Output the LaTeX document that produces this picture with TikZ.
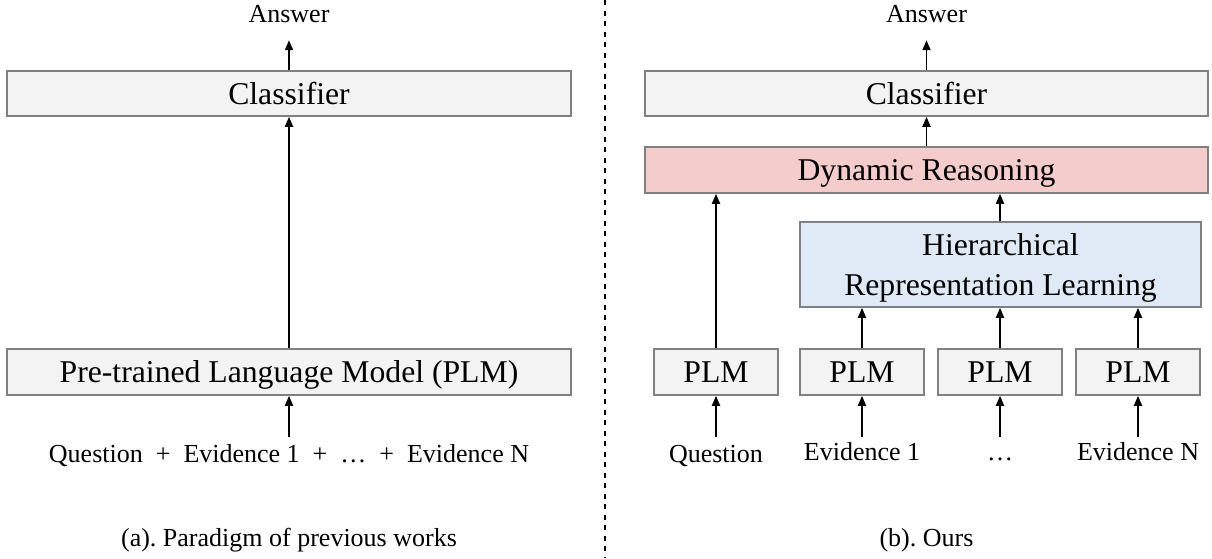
\documentclass[tikz,border=0pt]{standalone}
\usepackage{fontspec}
\setmainfont{Liberation Serif}
\usetikzlibrary{arrows.meta}
\definecolor{boxgray}{RGB}{243,243,243}
\definecolor{boxpink}{RGB}{244,204,204}
\definecolor{boxblue}{RGB}{224,234,246}
\definecolor{edgegray}{RGB}{128,128,128}
\frenchspacing
\begin{document}
\begin{tikzpicture}[x=1pt,y=-1pt,
  box/.style={draw=edgegray, line width=1.6pt, rectangle, inner sep=0pt,
    font=\fontsize{31.7}{39.5}\selectfont, text height=21pt, text depth=0pt},
  graybox/.style={box, fill=boxgray},
  arr/.style={-{Triangle[length=10pt,width=8pt]}, line width=1.8pt},
  lbl/.style={font=\fontsize{26}{30}\selectfont, inner sep=0pt,
    text height=17pt, text depth=0pt},
  divider/.style={line width=1.6pt, dash pattern=on 5pt off 5.5pt},
]
\useasboundingbox (0,0) rectangle (1212,558);

% ---------- (a) previous paradigm ----------
\node[graybox, minimum width=564pt, minimum height=45pt] (lcls) at (289,93.5) {Classifier};
\node[graybox, minimum width=564pt, minimum height=46pt] (lplm) at (289,372) {Pre-trained Language Model (PLM)};
\node[lbl, anchor=base] (lans) at (289,22) {Answer};
\node[lbl, anchor=base] (lin) at (289,462)
  {Question\enspace+\enspace Evidence 1\enspace+\enspace…\enspace+\enspace Evidence N};
\node[lbl, anchor=base] (capa) at (289,546) {(a). Paradigm of previous works};

\draw[arr, shorten >=18pt] (lcls.north) -- (lans.south);
\draw[arr] (lplm.north) -- (lcls.south);
\draw[arr, shorten <=8pt] (lin.north) -- (lplm.south);

% ---------- divider ----------
\coordinate (divtop) at (605,0);
\coordinate (divbot) at (605,558);
\draw[divider] (divtop) -- (divbot);

% ---------- (b) ours ----------
\node[graybox, minimum width=563pt, minimum height=45pt] (rcls) at (926.5,93.5) {Classifier};
\node[box, fill=boxpink, minimum width=563pt, minimum height=46pt] (dr) at (926.5,170) {Dynamic Reasoning};
\node[box, fill=boxblue, minimum width=401pt, minimum height=85pt, align=center,
      text height={}, text depth=0pt] (hrl) at (1000.5,264.5)
  {Hierarchical\\Representation Learning};

\node[graybox, minimum width=124pt, minimum height=46pt] (qplm) at (716,372) {PLM};
\node[graybox, minimum width=124pt, minimum height=46pt] (p1) at (862,372) {PLM};
\node[graybox, minimum width=124pt, minimum height=46pt] (p2) at (1000,372) {PLM};
\node[graybox, minimum width=124pt, minimum height=46pt] (p3) at (1138,372) {PLM};

\node[lbl, anchor=base] (rans) at (926.5,22) {Answer};
\node[lbl, anchor=base] (qtxt) at (716,462) {Question};
\node[lbl, anchor=base] (e1txt) at (862,460) {Evidence 1};
\node[lbl, anchor=base] (dtxt) at (1000,460) {…};
\node[lbl, anchor=base] (entxt) at (1138,460) {Evidence N};
\node[lbl, anchor=base] (capb) at (926.5,546) {(b). Ours};

\draw[arr, shorten >=18pt] (rcls.north) -- (rans.south);
\draw[arr] (dr.north) -- (rcls.south);
\draw[arr] (qplm.north) -- (qplm.north |- dr.south);
\draw[arr] (p2.north |- hrl.north) -- (p2.north |- dr.south);
\draw[arr] (p1.north) -- (p1.north |- hrl.south);
\draw[arr] (p2.north) -- (p2.north |- hrl.south);
\draw[arr] (p3.north) -- (p3.north |- hrl.south);

\draw[arr, shorten <=8pt] (qtxt.north) -- (qplm.south);
\draw[arr, shorten <=6pt] (e1txt.north) -- (p1.south);
\draw[arr, shorten <=6pt] (dtxt.north) -- (p2.south);
\draw[arr, shorten <=6pt] (entxt.north) -- (p3.south);
\end{tikzpicture}
\end{document}
